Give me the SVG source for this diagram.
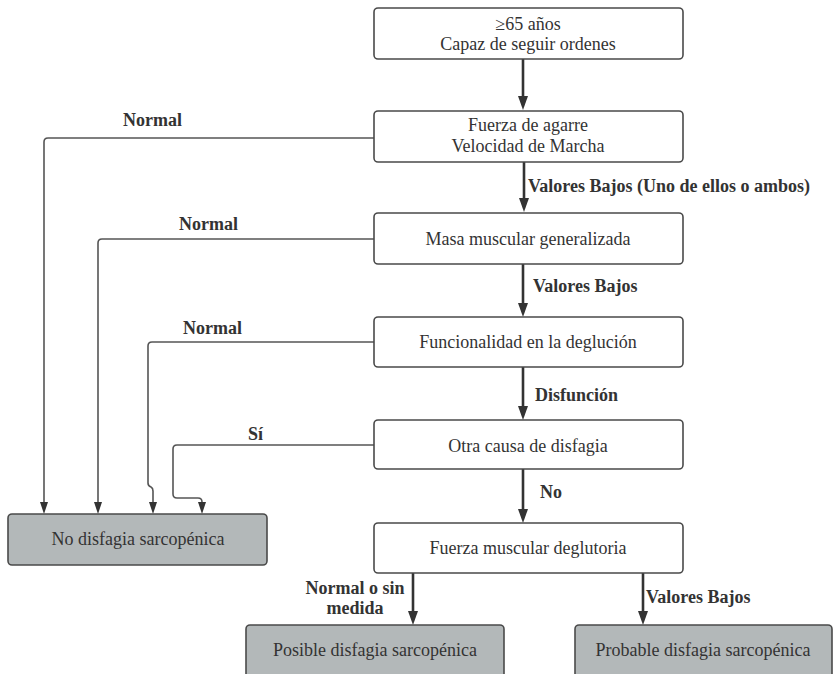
<svg xmlns="http://www.w3.org/2000/svg" width="834" height="674" viewBox="0 0 834 674">
<style>
.box{fill:#fff;stroke:#4a4a4a;stroke-width:1.6}
.gbox{fill:#b3b8b9;stroke:#4a4a4a;stroke-width:1.6}
.t{font-family:"Liberation Serif","Times New Roman",serif;font-size:18px;fill:#333;text-anchor:middle}
.lb{font-family:"Liberation Serif","Times New Roman",serif;font-size:18px;font-weight:bold;fill:#333}
.main{stroke:#333;stroke-width:2.6;fill:none}
.side{stroke:#555;stroke-width:1.6;fill:none;stroke-linejoin:round}
</style>
<g id="connectors">
<line class="main" x1="523" y1="59" x2="523" y2="98" />
<path d="M518,96 L528,96 L523,110 Z" fill="#333"/>
<line class="main" x1="524" y1="162" x2="524" y2="200" />
<path d="M519,198 L529,198 L524,212 Z" fill="#333"/>
<line class="main" x1="523" y1="264" x2="523" y2="305" />
<path d="M518,303 L528,303 L523,317 Z" fill="#333"/>
<line class="main" x1="523" y1="367" x2="523" y2="408" />
<path d="M518,406 L528,406 L523,420 Z" fill="#333"/>
<line class="main" x1="523" y1="469" x2="523" y2="511" />
<path d="M518,509 L528,509 L523,523 Z" fill="#333"/>
<line class="main" x1="413" y1="573" x2="413" y2="613" />
<path d="M408,611 L418,611 L413,625 Z" fill="#333"/>
<line class="main" x1="643" y1="573" x2="643" y2="613" />
<path d="M638,611 L648,611 L643,625 Z" fill="#333"/>
<path class="side" d="M383,138 L48,138 Q44,138 44,142 L44,503" />
<path d="M40,502 L48,502 L44,514 Z" fill="#333"/>
<path class="side" d="M374,239 L102,239 Q98,239 98,243 L98,503" />
<path d="M94,502 L102,502 L98,514 Z" fill="#333"/>
<path class="side" d="M374,342 L152,342 Q148,342 148,346 L148,483 Q148,486 151,487 Q153,488 153,491 L153,503" />
<path d="M149,502 L157,502 L153,514 Z" fill="#333"/>
<path class="side" d="M374,445 L177,445 Q173,445 173,449 L173,494 Q173,498 177,498 L198,498 Q202,498 202,502 L202,503" />
<path d="M198,502 L206,502 L202,514 Z" fill="#333"/>
</g>
<g id="labels">
<text class="lb" x="528" y="192">Valores Bajos (Uno de ellos o ambos)</text>
<text class="lb" x="533" y="292">Valores Bajos</text>
<text class="lb" x="535" y="401">Disfunción</text>
<text class="lb" x="540" y="498">No</text>
<text class="lb" x="123" y="126">Normal</text>
<text class="lb" x="179" y="230">Normal</text>
<text class="lb" x="183" y="334">Normal</text>
<text class="lb" x="248" y="440">Sí</text>
<text class="lb" x="355" y="594" text-anchor="middle">Normal o sin</text>
<text class="lb" x="355" y="614" text-anchor="middle">medida</text>
<text class="lb" x="646" y="603">Valores Bajos</text>
</g>
<g id="n1"><rect class="box" x="374" y="8" width="309" height="51" rx="4"/>
<text class="t" x="528" y="30">≥65 años</text><text class="t" x="528" y="50">Capaz de seguir ordenes</text></g>
<g id="n2"><rect class="box" x="374" y="111" width="309" height="51" rx="4"/>
<text class="t" x="528" y="131">Fuerza de agarre</text><text class="t" x="528" y="152">Velocidad de Marcha</text></g>
<g id="n3"><rect class="box" x="374" y="213" width="309" height="51" rx="4"/>
<text class="t" x="528" y="245">Masa muscular generalizada</text></g>
<g id="n4"><rect class="box" x="374" y="317" width="309" height="50" rx="4"/>
<text class="t" x="528" y="348">Funcionalidad en la deglución</text></g>
<g id="n5"><rect class="box" x="374" y="420" width="309" height="49" rx="4"/>
<text class="t" x="528" y="452">Otra causa de disfagia</text></g>
<g id="n6"><rect class="box" x="374" y="523" width="309" height="50" rx="4"/>
<text class="t" x="528" y="554">Fuerza muscular deglutoria</text></g>
<g id="n7"><rect class="gbox" x="8" y="514" width="259" height="51" rx="4"/>
<text class="t" x="138" y="545">No disfagia sarcopénica</text></g>
<g id="n8"><rect class="gbox" x="246" y="625" width="258" height="60" rx="4"/>
<text class="t" x="375" y="656">Posible disfagia sarcopénica</text></g>
<g id="n9"><rect class="gbox" x="575" y="625" width="257" height="60" rx="4"/>
<text class="t" x="703" y="656">Probable disfagia sarcopénica</text></g>
</svg>
